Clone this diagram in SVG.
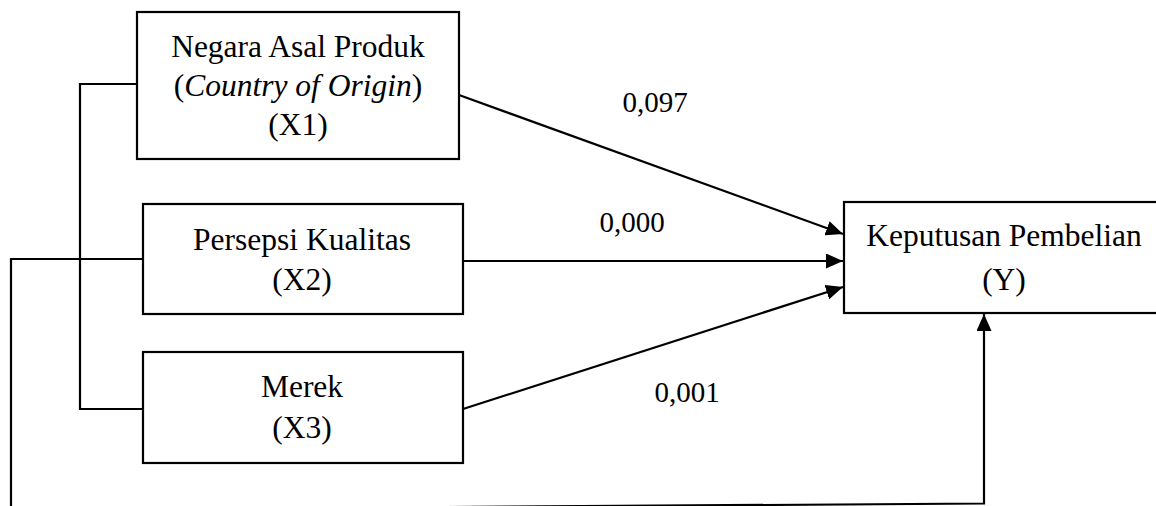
<svg xmlns="http://www.w3.org/2000/svg" width="1156" height="506" viewBox="0 0 1156 506">
  <style>
    .box { fill: #fff; stroke: #000; stroke-width: 2.2; }
    .txt { font-family: "Liberation Serif", "Times New Roman", serif; font-size: 31.5px; fill: #000; text-anchor: middle; }
    .lbl { font-family: "Liberation Serif", "Times New Roman", serif; font-size: 29px; fill: #000; text-anchor: middle; }
    .ln { fill: none; stroke: #000; stroke-width: 2.2; }
  </style>
  <defs>
    <marker id="arrow" viewBox="0 0 17 15" refX="17" refY="7.5" markerWidth="17" markerHeight="15" markerUnits="userSpaceOnUse" orient="auto">
      <path d="M0,0 L17,7.5 L0,15 Z" fill="#000"/>
    </marker>
  </defs>
  <rect width="1156" height="506" fill="#fff"/>

  <g id="connectors">
    <!-- bracket joining X1 and X3 -->
    <polyline class="ln" points="137,84 80,84 80,409 143,409"/>
    <!-- path from X2 down past the lower edge -->
    <polyline class="ln" points="143,259 11,259 11,510"/>
    <!-- return path along the lower edge up to Y -->
    <polyline class="ln" points="11,510 984,503.5 984,314" marker-end="url(#arrow)"/>
    <line class="ln" x1="459" y1="95" x2="843" y2="234" marker-end="url(#arrow)"/>
    <line class="ln" x1="463" y1="261" x2="843" y2="261" marker-end="url(#arrow)"/>
    <line class="ln" x1="463" y1="409" x2="843" y2="287" marker-end="url(#arrow)"/>
    <text class="lbl" x="655" y="112">0,097</text>
    <text class="lbl" x="632" y="232">0,000</text>
    <text class="lbl" x="687" y="402">0,001</text>
  </g>

  <g id="x1">
    <rect class="box" x="137" y="12" width="322" height="147"/>
    <text class="txt" x="298" y="57">Negara Asal Produk</text>
    <text class="txt" x="298" y="96">(<tspan font-style="italic">Country of Origin</tspan>)</text>
    <text class="txt" x="298" y="135">(X1)</text>
  </g>

  <g id="x2">
    <rect class="box" x="143" y="204" width="320" height="110"/>
    <text class="txt" x="302" y="250">Persepsi Kualitas</text>
    <text class="txt" x="302" y="290">(X2)</text>
  </g>

  <g id="x3">
    <rect class="box" x="143" y="352" width="320" height="111"/>
    <text class="txt" x="302" y="397">Merek</text>
    <text class="txt" x="302" y="438">(X3)</text>
  </g>

  <g id="y">
    <rect class="box" x="844" y="202" width="316" height="111"/>
    <text class="txt" x="1004" y="246">Keputusan Pembelian</text>
    <text class="txt" x="1004" y="290">(Y)</text>
  </g>
</svg>
